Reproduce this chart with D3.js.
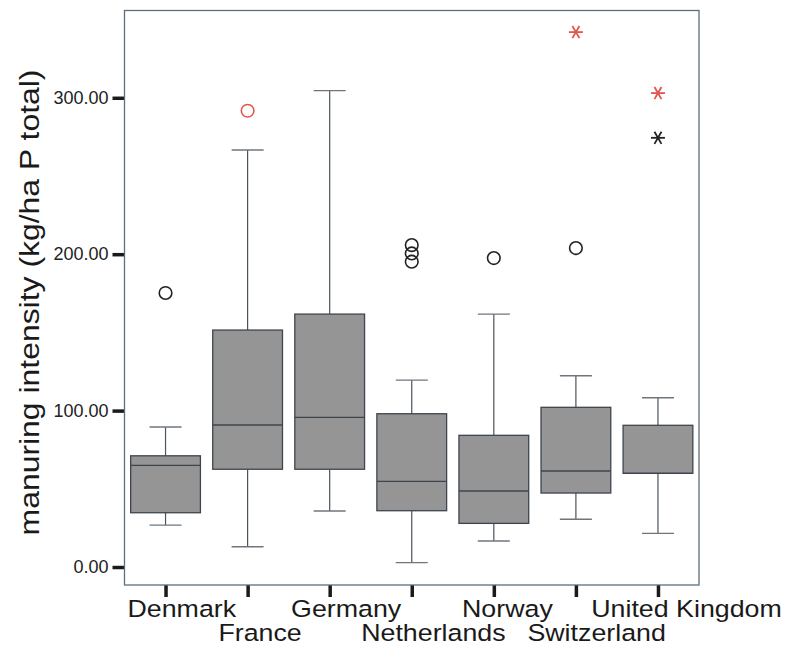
<!DOCTYPE html>
<html>
<head>
<meta charset="utf-8">
<script src="https://cdn.jsdelivr.net/npm/d3@7"></script>
<style>
    body { margin: 0; background: #ffffff; }
    svg { display: block; font-family: "Liberation Sans", Arial, sans-serif; }
</style>
</head>
<body>
<div id="chart"></div>
<script>
'use strict';

// ---------------- data -------------------------------------------
var countries   = ['Denmark', 'France', 'Germany', 'Netherlands', 'Norway', 'Switzerland', 'United Kingdom'];
var whiskerLow  = [26.8, 13.0, 35.8, 2.8, 16.6, 30.5, 21.5];
var q1          = [34.7, 62.5, 62.5, 36.0, 27.9, 47.3, 59.9];
var median      = [65.0, 90.8, 95.7, 54.8, 48.6, 61.4, 59.9];
var q3          = [71.1, 151.5, 161.7, 98.0, 84.2, 102.1, 90.6];
var whiskerHigh = [89.5, 266.6, 304.6, 119.5, 161.7, 122.3, 108.2];

// outliers: 'o' = outlier, '*' = extreme; flagged ones are drawn in red
var outCountry  = ['Denmark', 'France', 'Netherlands', 'Netherlands', 'Netherlands', 'Norway', 'Switzerland', 'Switzerland', 'United Kingdom', 'United Kingdom'];
var outValue    = [175.2, 291.7, 205.8, 200.5, 195.2, 197.5, 203.9, 342.0, 303.0, 274.4];
var outKind     = ['o', 'o', 'o', 'o', 'o', 'o', 'o', '*', '*', '*'];
var outFlagged  = [false, true, false, false, false, false, false, true, true, false];

var yTicks      = [0, 100, 200, 300];
var yLabel      = 'manuring intensity (kg/ha P total)';

// ---------------- layout -----------------------------------------
var W = 788, H = 648;
var plot = { left: 124.5, right: 699, top: 10.5, bottom: 585 };
var stretch = 1.14;     // the original font is drawn a bit wider
var red = '#e2574c';

var svg = d3.select('#chart').append('svg')
    .attr('width', W)
    .attr('height', H);

var x = d3.scalePoint()
    .domain(countries)
    .range([plot.left, plot.right])
    .padding(0.5);

var y = d3.scaleLinear()
    .domain([-11.5, 355.8])
    .range([plot.bottom, plot.top]);

var boxW = x.step() * 0.85;
var capW = x.step() * 0.39;

var boxes = countries.map(function(c, i) {
    return { id: c, lo: whiskerLow[i], q1: q1[i], med: median[i], q3: q3[i], hi: whiskerHigh[i] };
});

var outliers = outCountry.map(function(c, i) {
    return { id: c, value: outValue[i], kind: outKind[i], flagged: outFlagged[i] };
});

// ---------------- axes -------------------------------------------
var yAxis = svg.append('g')
    .attr('transform', 'translate(' + plot.left + ',0)')
    .call(d3.axisLeft(y).tickValues(yTicks).tickFormat(d3.format('.2f')).tickSize(12).tickPadding(4));

yAxis.select('.domain').remove();
yAxis.selectAll('.tick line').attr('stroke', '#1a1a1a').attr('stroke-width', 3.5);
yAxis.selectAll('.tick text')
    .attr('fill', '#222')
    .style('font-size', '18px')
    .style('font-family', '"Liberation Sans", Arial, sans-serif');

var xAxis = svg.append('g')
    .attr('transform', 'translate(0,' + plot.bottom + ')')
    .call(d3.axisBottom(x).tickSize(12).tickFormat(''));

xAxis.select('.domain').remove();
xAxis.selectAll('.tick line').attr('stroke', '#1a1a1a').attr('stroke-width', 3.5);

// category labels, staggered in two rows
var catLabels = svg.append('g')
    .selectAll('text')
    .data(countries)
    .enter().append('text')
    .attr('fill', '#1a1a1a')
    .style('font-size', '23.5px')
    .text(function(d) { return d; });

catLabels.attr('transform', function(d, i) {
    var w = this.getComputedTextLength() * stretch;
    var base = (i % 2 === 0) ? 616.5 : 640.5;
    return 'translate(' + (x(d) - 0.35 * w) + ',' + base + ') scale(' + stretch + ',1)';
});

// y title
svg.append('text')
    .attr('transform', 'translate(39,' + 302.5 + ') rotate(-90) scale(' + stretch + ',1)')
    .attr('text-anchor', 'middle')
    .attr('fill', '#1a1a1a')
    .style('font-size', '28px')
    .text(yLabel);

// ---------------- boxes ------------------------------------------
var g = svg.append('g');

var box = g.selectAll('.box')
    .data(boxes)
    .enter().append('g')
    .attr('class', 'box');

box.append('line')
    .attr('x1', function(d) { return x(d.id); })
    .attr('x2', function(d) { return x(d.id); })
    .attr('y1', function(d) { return y(d.lo); })
    .attr('y2', function(d) { return y(d.hi); })
    .attr('stroke', '#4a545c')
    .attr('stroke-width', 1.2);

box.selectAll('.cap')
    .data(function(d) { return [{ id: d.id, v: d.lo }, { id: d.id, v: d.hi }]; })
    .enter().append('line')
    .attr('class', 'cap')
    .attr('x1', function(d) { return x(d.id) - capW / 2; })
    .attr('x2', function(d) { return x(d.id) + capW / 2; })
    .attr('y1', function(d) { return y(d.v); })
    .attr('y2', function(d) { return y(d.v); })
    .attr('stroke', '#6e767c')
    .attr('stroke-width', 1.4);

box.append('rect')
    .attr('x', function(d) { return x(d.id) - boxW / 2; })
    .attr('width', boxW)
    .attr('y', function(d) { return y(d.q3); })
    .attr('height', function(d) { return y(d.q1) - y(d.q3); })
    .attr('fill', '#959595')
    .attr('stroke', '#3d464e')
    .attr('stroke-width', 1.3);

box.append('line')
    .attr('x1', function(d) { return x(d.id) - boxW / 2; })
    .attr('x2', function(d) { return x(d.id) + boxW / 2; })
    .attr('y1', function(d) { return y(d.med); })
    .attr('y2', function(d) { return y(d.med); })
    .attr('stroke', '#3d464e')
    .attr('stroke-width', 1.3);

// ---------------- outliers ---------------------------------------
var circles = g.selectAll('.outlier')
    .data(outliers.filter(function(d) { return d.kind === 'o'; }))
    .enter().append('circle')
    .attr('class', 'outlier')
    .attr('cx', function(d) { return x(d.id); })
    .attr('cy', function(d) { return y(d.value); })
    .attr('r', 6.3)
    .attr('fill', 'none')
    .attr('stroke', function(d) { return d.flagged ? red : '#222'; })
    .attr('stroke-width', 1.6);

var stars = g.selectAll('.extreme')
    .data(outliers.filter(function(d) { return d.kind === '*'; }))
    .enter().append('g')
    .attr('class', 'extreme')
    .attr('transform', function(d) { return 'translate(' + x(d.id) + ',' + y(d.value) + ')'; })
    .attr('stroke', function(d) { return d.flagged ? red : '#222'; })
    .attr('stroke-width', 1.8);

[0, 60, 120].forEach(function(a) {
    stars.append('line')
        .attr('x1', -7).attr('x2', 7)
        .attr('transform', 'rotate(' + a + ')');
});

// ---------------- frame ------------------------------------------
svg.append('rect')
    .attr('x', plot.left)
    .attr('y', plot.top)
    .attr('width', plot.right - plot.left)
    .attr('height', plot.bottom - plot.top)
    .attr('fill', 'none')
    .attr('stroke', '#5c6f7b')
    .attr('stroke-width', 1.3);
</script>
</body>
</html>
